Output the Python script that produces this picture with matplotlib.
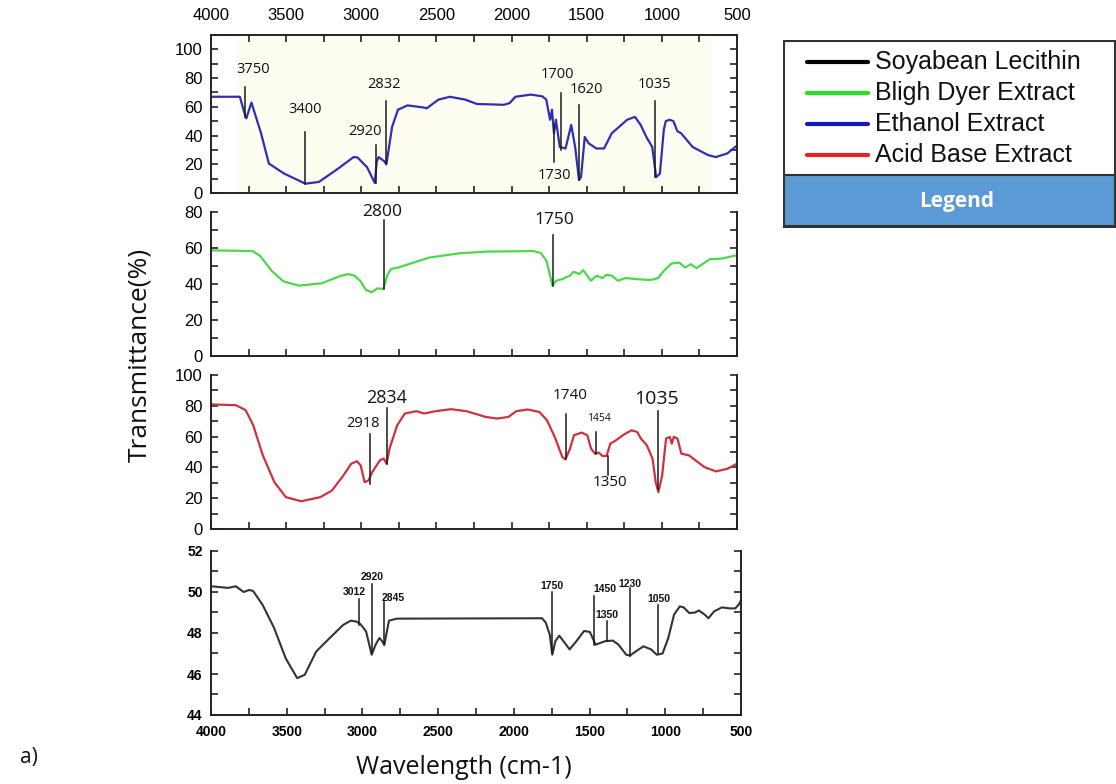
import matplotlib
matplotlib.use("Agg")
import matplotlib.pyplot as plt
from matplotlib.ticker import MultipleLocator
from matplotlib.patches import Rectangle

# ---- data ----
eth_wn = [4000, 3808, 3770, 3765, 3731, 3667, 3615, 3513, 3372, 3282, 3154, 3051, 3026,
          2962, 2910, 2897, 2885, 2846, 2833, 2795, 2756, 2692, 2590, 2564, 2487, 2410,
          2308, 2231, 2051, 2013, 1974, 1872, 1795, 1769, 1744, 1731, 1718, 1705, 1679,
          1641, 1603, 1577, 1551, 1538, 1513, 1487, 1436, 1385, 1333, 1231, 1179, 1141,
          1103, 1064, 1038, 1013, 987, 974, 949, 923, 897, 872, 795, 692, 641, 564, 500]
eth_t = [67, 67, 53, 52, 63, 41.6, 20.5, 13.5, 6.5, 7.7, 17, 25, 24.8,
         18, 7, 22, 25, 22, 20, 46, 58, 61, 59.6, 59, 65, 67,
         65, 62, 61.4, 62.6, 67, 68.5, 67.3, 65, 51, 58, 41.6, 51, 32,
         31, 47.4, 32, 9, 11, 39, 34.6, 31, 31, 41.6, 51, 53, 47.4,
         39, 32, 11, 13.5, 44, 50, 51, 50, 43, 41.6, 32, 26.4, 25, 27.6, 33]

bd_wn = [4000, 3724, 3673, 3596, 3519, 3417, 3263, 3135, 3084, 3046, 3007, 2969, 2931,
         2892, 2854, 2828, 2803, 2752, 2547, 2342, 2163, 1856, 1805, 1767, 1741, 1728,
         1703, 1664, 1613, 1587, 1549, 1523, 1485, 1472, 1434, 1396, 1370, 1332, 1293,
         1242, 1166, 1076, 1025, 987, 935, 884, 846, 807, 769, 731, 680, 603, 500]
bd_t = [58.7, 58.3, 55.6, 47.3, 41.5, 39.1, 40.4, 44.6, 45.5, 44.6, 41.8, 36.7, 35.4,
        37.6, 37.2, 44.6, 48.3, 49.2, 54.7, 57.1, 58, 58.3, 57.2, 52.8, 43.7, 39.1,
        41.8, 42.7, 44.6, 46.8, 45.5, 47.7, 43.3, 41.8, 44.6, 43.3, 45.1, 44.6, 41.8,
        43.3, 42.7, 42.2, 43.3, 47.3, 51.4, 51.9, 49.2, 51, 48.8, 51, 53.8, 54.1, 56]

ab_wn = [4000, 3834, 3770, 3719, 3655, 3578, 3502, 3400, 3272, 3195, 3119, 3067, 3029,
         3004, 2978, 2952, 2927, 2876, 2850, 2832, 2812, 2761, 2710, 2633, 2582, 2505,
         2403, 2301, 2173, 2097, 2020, 1969, 1892, 1815, 1764, 1713, 1662, 1642, 1611,
         1585, 1534, 1496, 1471, 1445, 1420, 1394, 1368, 1343, 1305, 1253, 1202, 1164,
         1139, 1100, 1062, 1041, 1023, 998, 972, 947, 934, 921, 896, 870, 819, 717, 640,
         564, 500]
ab_t = [80.9, 80.4, 77.2, 67.4, 47.8, 30.4, 20.7, 18, 20.7, 25, 34.8, 42.4, 44,
        41.3, 30.4, 31.5, 37, 44.6, 45.7, 42.4, 52.2, 67.4, 75, 76.5, 75, 76.5,
        77.8, 76.5, 72.8, 71.7, 72.8, 76.5, 77.6, 76, 70.6, 59.8, 46.7, 45.2, 52.2,
        60.9, 62.6, 60.9, 52.2, 48.9, 49.6, 47.4, 47.4, 55.4, 57.6, 61.3, 64.1, 63,
        58.7, 54.3, 45.7, 30.4, 23.9, 34.8, 58.7, 59.8, 55.4, 59.8, 58.7, 48.9, 47.8,
        40.2, 37.4, 39.1, 42.4]

sl_wn = [4000, 3886, 3836, 3785, 3747, 3722, 3659, 3583, 3507, 3431, 3381, 3305, 3229,
         3128, 3078, 3040, 3014, 2976, 2939, 2913, 2888, 2870, 2855, 2843, 2825, 2774,
         1814, 1789, 1763, 1746, 1726, 1700, 1662, 1632, 1587, 1536, 1498, 1460, 1435,
         1397, 1346, 1309, 1258, 1233, 1195, 1144, 1094, 1056, 1018, 980, 942, 904, 879,
         841, 803, 778, 740, 715, 677, 626, 576, 538, 513, 500]
sl_t = [50.28, 50.2, 50.28, 50.0, 50.1, 50.05, 49.37, 48.24, 46.77, 45.8, 45.96, 47.1, 47.66,
        48.39, 48.6, 48.56, 48.44, 48.08, 46.94, 47.43, 47.76, 47.6, 47.43, 47.9, 48.6, 48.7,
        48.72, 48.5, 47.92, 46.94, 47.6, 47.87, 47.5, 47.2, 47.6, 48.1, 48.05, 47.43, 47.5,
        47.6, 47.63, 47.43, 46.94, 46.9, 47.1, 47.35, 47.2, 46.94, 47.0, 47.76, 48.9, 49.3, 49.25,
        48.97, 49.0, 49.1, 48.9, 48.72, 49.06, 49.25, 49.2, 49.2, 49.4, 49.6]

# peak markers: label, line x, line top, line bottom, label x, label y
eth_peaks = [("3750", 3775, 74, 53, 3718, 86), ("3400", 3372, 42.8, 6.5, 3372, 58),
             ("2920", 2905, 33.4, 7, 2974, 42.8), ("2832", 2833, 63.8, 20.5, 2846, 75.5),
             ("1700", 1672, 69.6, 30, 1692, 82.5), ("1730", 1718, 47.4, 21.7, 1718, 12.4),
             ("1620", 1551, 61.4, 9, 1500, 72), ("1035", 1044, 63.8, 11, 1051, 75.5)]
bd_peaks = [("2800", 2849, 75.8, 37.2, 2859, 80), ("1750", 1723, 67, 39, 1715, 75.8)]
ab_peaks = [("2918", 2945, 62, 29.3, 2986, 68.5), ("2834", 2827, 78.3, 42.4, 2832, 85.2),
            ("1740", 1637, 75, 45.6, 1611, 87), ("1454", 1440, 63, 48.9, 1420, 72),
            ("1350", 1361, 47.4, 34.8, 1343, 30.4), ("1035", 1023, 76.5, 26, 1036, 84.3)]
ab_sizes = [10.5, 13, 11, 7.5, 11, 14]
sl_peaks = [("3012", 3022, 49.66, 48.4, 3057, 50.0), ("2920", 2934, 50.4, 47.0, 2939, 50.75),
            ("2845", 2858, 49.5, 47.4, 2800, 49.7), ("1750", 1746, 50.0, 47.0, 1751, 50.3),
            ("1450", 1468, 49.8, 47.4, 1397, 50.15), ("1350", 1384, 48.6, 47.6, 1384, 48.9),
            ("1230", 1233, 50.2, 46.9, 1233, 50.4), ("1050", 1048, 49.35, 47.0, 1043, 49.65)]

legend_names = ["Soyabean Lecithin", "Bligh Dyer Extract", "Ethanol Extract", "Acid Base Extract"]
legend_colors = ["#000000", "#22e022", "#1515c8", "#e82020"]

W, H = 1116, 784
fig = plt.figure(figsize=(W / 100, H / 100), dpi=100)


def box(l, t, r, b):
    return [l / W, 1 - b / H, (r - l) / W, (b - t) / H]


def style(ax, ylim, ymaj, ymin, label_font, bold=False):
    ax.set_xlim(4000, 500)
    ax.set_ylim(*ylim)
    ax.xaxis.set_major_locator(MultipleLocator(500))
    ax.xaxis.set_minor_locator(MultipleLocator(250))
    ax.yaxis.set_major_locator(MultipleLocator(ymaj))
    ax.yaxis.set_minor_locator(MultipleLocator(ymin))
    ax.tick_params(which="both", direction="in", length=5, width=1.2, color="#222222",
                   right=True, labelsize=label_font)
    ax.tick_params(axis="y", pad=6)
    ax.tick_params(axis="x", pad=5)
    for s in ax.spines.values():
        s.set_linewidth(1.4)
        s.set_color("#222222")
    for lab in ax.get_xticklabels() + ax.get_yticklabels():
        lab.set_family("Liberation Sans")
        if bold:
            lab.set_fontweight("bold")


def peaks(ax, items, size, bold=False, sizes=None):
    for i, (txt, x, y1, y2, tx, ty) in enumerate(items):
        ax.plot([x, x], [y1, y2], color="#1a1a1a", lw=1.1, zorder=3)
        fs = sizes[i] if sizes else size
        ax.text(tx, ty, txt, ha="center", va="center", fontsize=fs,
                family="Liberation Sans" if bold else "Open Sans",
                fontweight="bold" if bold else "normal", color="#111111")


# panel 1: ethanol extract
ax1 = fig.add_axes(box(211, 35, 737, 193))
ax1.axvspan(3830, 670, ymin=0.01, ymax=0.99, color="#fefdf2", zorder=0)
ax1.plot(eth_wn, eth_t, color="#2f2fb4", lw=1.6)
style(ax1, (0, 110), 20, 10, 12)
ax1.tick_params(which="both", top=True, labeltop=True, labelbottom=False)
ax1.tick_params(axis="x", pad=9)
for lab in ax1.get_xticklabels():
    lab.set_family("Liberation Sans")
peaks(ax1, eth_peaks, 10.5)

# panel 2: bligh dyer
ax2 = fig.add_axes(box(211, 212, 737, 356))
ax2.plot(bd_wn, bd_t, color="#4bd84b", lw=1.6)
style(ax2, (0, 80), 20, 10, 12)
ax2.spines["top"].set_visible(False)
ax2.tick_params(which="both", labelbottom=False)
peaks(ax2, bd_peaks, 12.5)

# panel 3: acid base
ax3 = fig.add_axes(box(211, 375, 737, 529))
ax3.plot(ab_wn, ab_t, color="#cc3340", lw=1.6)
style(ax3, (0, 100), 20, 10, 12)
ax3.spines["top"].set_visible(False)
ax3.tick_params(which="both", labelbottom=False)
peaks(ax3, ab_peaks, 11, sizes=ab_sizes)

# panel 4: soyabean lecithin
ax4 = fig.add_axes(box(211, 551, 741, 715))
ax4.plot(sl_wn, sl_t, color="#333333", lw=1.5)
style(ax4, (44, 52), 2, 1, 10, bold=True)
ax4.spines["top"].set_visible(False)
ax4.tick_params(axis="x", pad=7)
ax4.yaxis.set_major_formatter(plt.FuncFormatter(lambda v, p: f"{v:.0f}"))
for lab in ax4.get_xticklabels() + ax4.get_yticklabels():
    lab.set_family("Liberation Sans")
    lab.set_fontweight("bold")
peaks(ax4, sl_peaks, 7.5, bold=True)

fig.text(140 / W, 1 - 355 / H, "Transmittance(%)", rotation=90, ha="center", va="center",
         fontsize=19, family="Open Sans", color="#111111")
fig.text(464 / W, 1 - 768 / H, "Wavelength (cm-1)", ha="center", va="center",
         fontsize=18, family="Open Sans", color="#111111")
fig.text(20 / W, 1 - 758 / H, "a)", ha="left", va="center", fontsize=15,
         family="Open Sans", color="#111111")

# legend panel
lg = fig.add_axes(box(783, 40, 1116, 228))
lg.set_xlim(0, 333)
lg.set_ylim(188, 0)
lg.axis("off")
lg.add_patch(Rectangle((1, 1), 331, 186, facecolor="white", edgecolor="#333333", lw=1.5))
lg.add_patch(Rectangle((1, 135), 331, 51, facecolor="#5b9bd5", edgecolor="#333333", lw=1.5))
for i, (name, col) in enumerate(zip(legend_names, legend_colors)):
    y = 22 + i * 31
    lg.plot([24, 85], [y, y], color=col, lw=3, solid_capstyle="round")
    lg.text(92, y, name, ha="left", va="center", fontsize=18,
            family="Liberation Sans", color="#111111")
lg.text(174, 162, "Legend", ha="center", va="center", fontsize=15, fontweight="bold",
        family="Open Sans", color="white")

fig.savefig("out.png", dpi=100)
